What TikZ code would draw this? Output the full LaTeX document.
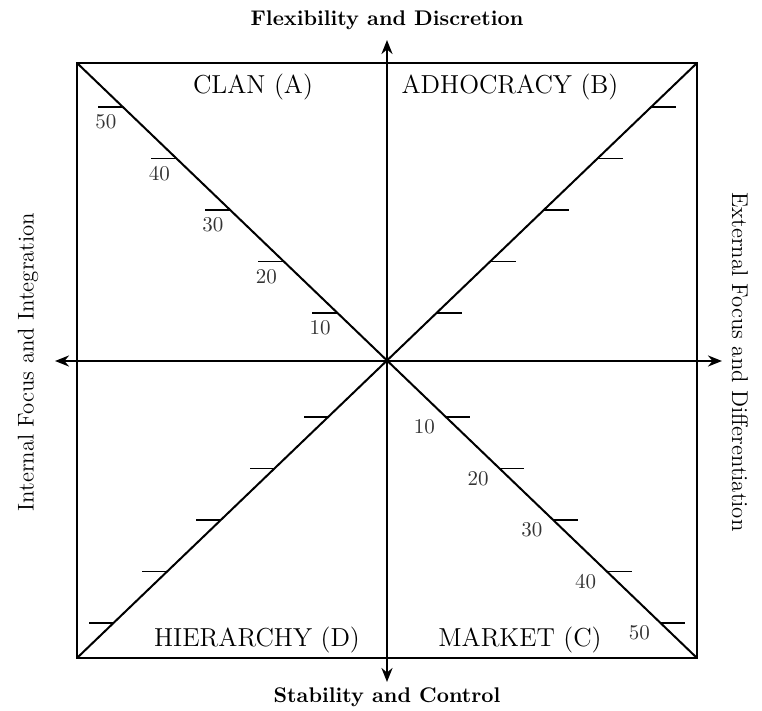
\documentclass[tikz,border=0pt]{standalone}
\usetikzlibrary{arrows.meta,calc}
\begin{document}
\begin{tikzpicture}[x=0.5pt,y=-0.5pt,
  frame/.style={line width=1pt,black},
  axis/.style={line width=1.2pt,-{Stealth[length=7pt,width=5.5pt]}},
  diag/.style={line width=1pt},
  tick/.style={line width=0.8pt},
  quad/.style={font=\fontsize{13}{15}\selectfont, inner sep=0pt},
  axlab/.style={font=\fontsize{10.6}{12}\selectfont\bfseries, inner sep=0pt},
  sidelab/.style={font=\fontsize{11.4}{13}\selectfont, inner sep=0pt},
  num/.style={font=\fontsize{10.5}{12}\selectfont, inner sep=0pt, text=black!80}]
\useasboundingbox (0,0) rectangle (762,711);
% corners and center
\coordinate (TL) at (77,63);
\coordinate (TR) at (697,63);
\coordinate (BR) at (697,658);
\coordinate (BL) at (77,658);
\coordinate (O) at (387,361);
\coordinate (Nt) at (387,40);
\coordinate (Sb) at (387,682);
\coordinate (Wl) at (55,361);
\coordinate (Er) at (722,361);
% frame
\draw[frame] (TL) rectangle (BR);
% diagonals
\draw[diag] (TL) -- (BR);
\draw[diag] (BL) -- (TR);
% axes
\draw[axis] (O) -- (Nt);
\draw[axis] (O) -- (Sb);
\draw[axis] (O) -- (Wl);
\draw[axis] (O) -- (Er);
% ticks: top-left (A) with labels
\foreach \f/\n in {0.1611/10,0.3339/20,0.5067/30,0.6795/40,0.8523/50}{
  \coordinate (a\n) at ($(O)!\f!(TL)$);
  \draw[tick] (a\n) -- ++(-25,0) coordinate (al\n);
  \node[num] (na\n) at ($(al\n)+(8,15)$) {\n};
}
% top-right (B)
\foreach \f/\n in {0.1611/10,0.3339/20,0.5067/30,0.6795/40,0.8523/50}{
  \coordinate (b\n) at ($(O)!\f!(TR)$);
  \draw[tick] (b\n) -- ++(25,0);
}
% bottom-left (D)
\foreach \f/\n in {0.1886/10,0.3620/20,0.5354/30,0.7088/40,0.8822/50}{
  \coordinate (d\n) at ($(O)!\f!(BL)$);
  \draw[tick] (d\n) -- ++(-25,0);
}
% bottom-right (C) with labels
\foreach \f/\n in {0.1886/10,0.3620/20,0.5354/30,0.7088/40,0.8822/50}{
  \coordinate (c\n) at ($(O)!\f!(BR)$);
  \draw[tick] (c\n) -- ++(25,0);
  \node[num] (nc\n) at ($(c\n)+(-21,10)$) {\n};
}
% quadrant labels
\node[quad] (qa) at (253,87) {CLAN (A)};
\node[quad] (qb) at (510,87) {ADHOCRACY (B)};
\node[quad] (qd) at (257,640) {HIERARCHY (D)};
\node[quad] (qc) at (520,640) {MARKET (C)};
% axis labels
\node[axlab] (lt) at (387,20) {Flexibility and Discretion};
\node[axlab] (lb) at (387,697) {Stability and Control};
\node[sidelab, rotate=90] (ll) at (28,362) {Internal Focus and Integration};
\node[sidelab, rotate=-90] (lr) at (740,362) {External Focus and Differentiation};
\end{tikzpicture}
\end{document}
